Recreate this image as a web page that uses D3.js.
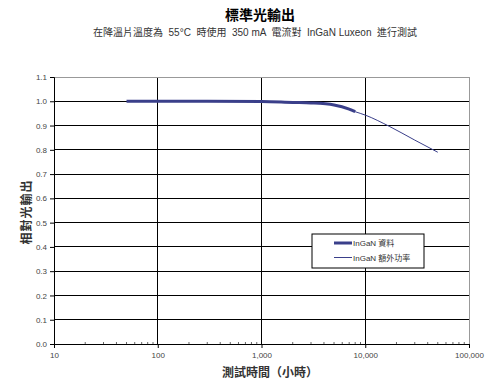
<!DOCTYPE html>
<html>
<head>
<meta charset="utf-8">
<script src="https://cdn.jsdelivr.net/npm/d3@7"></script>
<style>
  body { margin: 0; background: #fff; }
  svg text { font-family: "Liberation Sans", Arial, "Noto Sans CJK TC", sans-serif; }
</style>
</head>
<body>
<svg id="chart" width="494" height="383"></svg>
<script>
// measured data (hours vs relative light output)
const dataHours = [50, 100, 300, 1000, 2000, 3000, 5000, 7000, 8000];
const dataValues = [1.0, 1.0, 1.0, 0.999, 0.995, 0.993, 0.985, 0.968, 0.957];

// extrapolated line
const extraHours = [1000, 2000, 5000, 8000, 10000, 17000, 30000, 50000];
const extraValues = [0.999, 0.995, 0.985, 0.957, 0.943, 0.897, 0.84, 0.79];

const yTicks = [0, 0.1, 0.2, 0.3, 0.4, 0.5, 0.6, 0.7, 0.8, 0.9, 1.0, 1.1];
const xTicks = [10, 100, 1000, 10000, 100000];
const legendLabels = ["InGaN 資料", "InGaN 額外功率"];

const svg = d3.select("#chart"),
    margin = {top: 77, right: 25, bottom: 39, left: 54},
    width = +svg.attr("width"),
    height = +svg.attr("height");

const x = d3.scaleLog()
    .domain([10, 100000])
    .range([margin.left, width - margin.right]);

const y = d3.scaleLinear()
    .domain([0, 1.1])
    .range([height - margin.bottom, margin.top]);

// horizontal grid lines
svg.append("g")
    .selectAll("line")
    .data(yTicks.slice(1, -1))
    .join("line")
    .attr("x1", x(10)).attr("x2", x(100000))
    .attr("y1", d => y(d)).attr("y2", d => y(d))
    .attr("stroke", "#000").attr("stroke-width", 1)
    .style("shape-rendering", "crispEdges");

// vertical grid lines
svg.append("g")
    .selectAll("line")
    .data(xTicks.slice(1, -1))
    .join("line")
    .attr("x1", d => x(d)).attr("x2", d => x(d))
    .attr("y1", y(1.1)).attr("y2", y(0))
    .attr("stroke", "#000").attr("stroke-width", 1)
    .style("shape-rendering", "crispEdges");

// top / right border (gray)
svg.append("path")
    .attr("d", `M${x(10)},${y(1.1)}H${x(100000)}V${y(0)}`)
    .attr("fill", "none")
    .attr("stroke", "#999")
    .style("shape-rendering", "crispEdges");

// y axis
const yAxis = svg.append("g")
    .attr("transform", `translate(${margin.left},0)`)
    .call(d3.axisLeft(y).tickValues(yTicks).tickFormat(d3.format(".1f")).tickSize(4).tickPadding(3));
yAxis.select(".domain").attr("stroke", "#000");
yAxis.selectAll("text").attr("font-size", 8).attr("fill", "#444");

// x axis
const xAxis = svg.append("g")
    .attr("transform", `translate(0,${y(0)})`)
    .call(d3.axisBottom(x).tickValues(xTicks).tickFormat(d3.format(",")).tickSize(4).tickPadding(4));
xAxis.select(".domain").attr("stroke", "#000");
xAxis.selectAll("text").attr("font-size", 8).attr("fill", "#444");

// minor ticks (inside, upward)
const minor = [];
for (let dec = 10; dec < 100000; dec *= 10)
    for (let k = 2; k <= 9; k++) minor.push(dec * k);
svg.append("g")
    .selectAll("line")
    .data(minor)
    .join("line")
    .attr("x1", d => x(d)).attr("x2", d => x(d))
    .attr("y1", y(0)).attr("y2", y(0) - 2)
    .attr("stroke", "#666");

// lines
const line = d3.line()
    .curve(d3.curveMonotoneX)
    .x(d => x(d[0]))
    .y(d => y(d[1]));

svg.append("path")
    .datum(extraHours.map((h, i) => [h, extraValues[i]]))
    .attr("d", line)
    .attr("fill", "none")
    .attr("stroke", "#3a3f8a")
    .attr("stroke-width", 1);

svg.append("path")
    .datum(dataHours.map((h, i) => [h, dataValues[i]]))
    .attr("d", line)
    .attr("fill", "none")
    .attr("stroke", "#3a3f8a")
    .attr("stroke-width", 3);

// legend
const legend = svg.append("g").attr("transform", "translate(312,234)");
legend.append("rect")
    .attr("width", 112).attr("height", 34)
    .attr("fill", "#fff").attr("stroke", "#000");
legendLabels.forEach((lab, i) => {
    const ly = 9 + i * 14.5;
    legend.append("line")
        .attr("x1", 22).attr("x2", 40)
        .attr("y1", ly).attr("y2", ly)
        .attr("stroke", "#3a3f8a")
        .attr("stroke-width", i === 0 ? 3 : 1);
    legend.append("text")
        .attr("x", 41).attr("y", ly + 3)
        .attr("font-size", 8)
        .attr("fill", "#333")
        .text(lab);
});

// titles
svg.append("text")
    .attr("x", 260).attr("y", 20)
    .attr("text-anchor", "middle")
    .attr("font-size", 14).attr("font-weight", "bold")
    .text("標準光輸出");

svg.append("text")
    .attr("x", 255).attr("y", 36)
    .attr("text-anchor", "middle")
    .attr("font-size", 10)
    .attr("fill", "#333")
    .attr("xml:space", "preserve")
    .text("在降溫片溫度為  55°C  時使用  350 mA  電流對  InGaN Luxeon  進行測試");

svg.append("text")
    .attr("transform", "translate(31,212) rotate(-90)")
    .attr("text-anchor", "middle")
    .attr("font-size", 12)
    .attr("font-weight", "bold")
    .attr("fill", "#333")
    .attr("letter-spacing", 1)
    .text("相對光輸出");

svg.append("text")
    .attr("x", 270).attr("y", 377)
    .attr("text-anchor", "middle")
    .attr("font-size", 12)
    .attr("font-weight", "bold")
    .attr("fill", "#333")
    .text("測試時間（小時）");
</script>
</body>
</html>
